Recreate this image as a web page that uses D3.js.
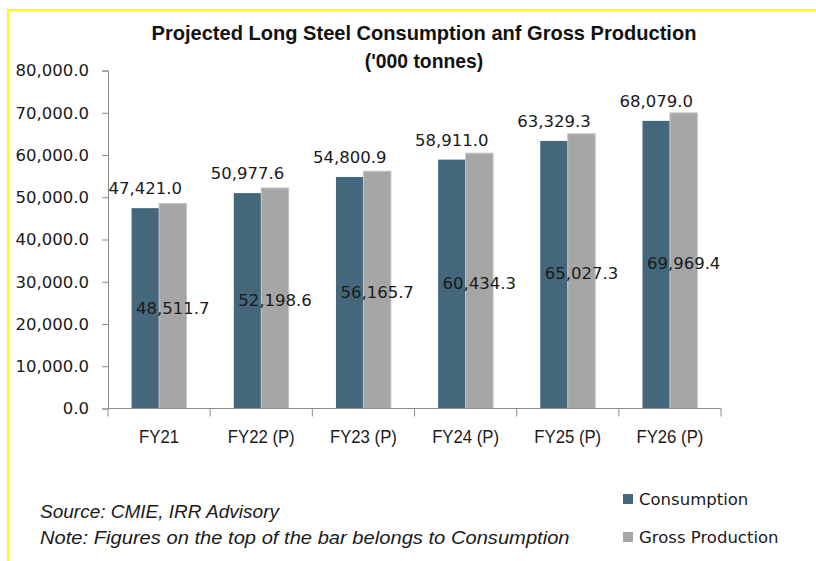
<!DOCTYPE html>
<html>
<head>
<meta charset="utf-8">
<script src="https://cdn.jsdelivr.net/npm/d3@7"></script>
<style>
  body { margin: 0; background: #fff; }
  svg { display: block; }
</style>
</head>
<body>
<script>
// data
var categories = ["FY21", "FY22 (P)", "FY23 (P)", "FY24 (P)", "FY25 (P)", "FY26 (P)"];
var consumption = [47421.0, 50977.6, 54800.9, 58911.0, 63329.3, 68079.0];
var production = [48511.7, 52198.6, 56165.7, 60434.3, 65027.3, 69969.4];
var seriesNames = ["Consumption", "Gross Production"];
var yTicks = [0, 10000, 20000, 30000, 40000, 50000, 60000, 70000, 80000];

var colors = { "Consumption": "#44677b", "Gross Production": "#a6a6a6" };

var numFont = "'DejaVu Sans', Verdana, sans-serif";
var narrowFont = "'Liberation Sans Narrow', 'Arial Narrow', 'Liberation Sans', sans-serif";

// squeeze text horizontally so the sans font looks like the condensed one in the picture
function condense(sel, k) {
    sel.each(function () {
        var len = this.getComputedTextLength();
        d3.select(this)
            .attr("textLength", len * k)
            .attr("lengthAdjust", "spacingAndGlyphs");
    });
}

var svg = d3.select("body")
    .append("svg")
    .attr("width", 816)
    .attr("height", 561);

// yellow frame
svg.append("rect")
    .attr("x", 8).attr("y", 10)
    .attr("width", 830).attr("height", 580)
    .attr("fill", "none")
    .attr("stroke", "#ffff00")
    .attr("stroke-width", 2);

// title
var t1 = svg.append("text")
    .attr("x", 424).attr("y", 40)
    .attr("text-anchor", "middle")
    .attr("font-family", narrowFont)
    .attr("font-weight", "bold")
    .attr("font-size", 21)
    .attr("fill", "#111")
    .text("Projected Long Steel Consumption anf Gross Production");
var t2 = svg.append("text")
    .attr("x", 424).attr("y", 68)
    .attr("text-anchor", "middle")
    .attr("font-family", narrowFont)
    .attr("font-weight", "bold")
    .attr("font-size", 21)
    .attr("fill", "#111")
    .text("('000 tonnes)");
condense(t1, 0.955);
condense(t2, 0.92);

// scales
var x0 = d3.scaleBand()
    .domain(categories)
    .range([108, 721])
    .padding(0);

var x1 = d3.scaleBand()
    .domain(seriesNames)
    .range([0, x0.bandwidth()])
    .paddingInner(0)
    .paddingOuter(0.86);

var y = d3.scaleLinear()
    .domain([0, 80000])
    .range([408.5, 70.5]);

// y axis
var yAxis = svg.append("g")
    .attr("transform", "translate(108,0)")
    .call(d3.axisLeft(y)
        .tickValues(yTicks)
        .tickSize(6)
        .tickPadding(13)
        .tickFormat(d3.format(",.1f")));
yAxis.select(".domain").attr("stroke", "#8c8c8c");
yAxis.selectAll(".tick line").attr("stroke", "#8c8c8c");
yAxis.selectAll("text")
    .attr("font-family", numFont)
    .attr("font-size", 16.5)
    .attr("fill", "#1a1a1a");

// bars
var rows = categories.map(function (c, i) {
    return { cat: c, values: [
        { name: "Consumption", value: consumption[i] },
        { name: "Gross Production", value: production[i] }
    ] };
});

var groups = svg.selectAll(".grp")
    .data(rows)
    .enter().append("g")
    .attr("class", "grp")
    .attr("transform", function (d) { return "translate(" + x0(d.cat) + ",0)"; });

groups.selectAll("rect")
    .data(function (d) { return d.values; })
    .enter().append("rect")
    .attr("x", function (d) { return x1(d.name); })
    .attr("y", function (d) { return y(d.value); })
    .attr("width", x1.bandwidth())
    .attr("height", function (d) { return y(0) - y(d.value); })
    .attr("fill", function (d) { return colors[d.name]; })
    .attr("stroke", function (d) { return d.name === "Gross Production" ? "#c4c4c4" : "none"; })
    .attr("stroke-width", 1);

// x axis (ticks between categories)
var xAxisLine = svg.append("g");
xAxisLine.append("line")
    .attr("x1", 108).attr("x2", 721)
    .attr("y1", y(0)).attr("y2", y(0))
    .attr("stroke", "#8c8c8c");
var bounds = categories.map(function (c) { return x0(c); }).concat([x0.range()[1]]);
xAxisLine.selectAll(".xt")
    .data(bounds)
    .enter().append("line")
    .attr("x1", function (d) { return d; })
    .attr("x2", function (d) { return d; })
    .attr("y1", y(0))
    .attr("y2", y(0) + 8)
    .attr("stroke", "#8c8c8c");

var xLabels = svg.selectAll(".xlab")
    .data(categories)
    .enter().append("text")
    .attr("x", function (d) { return x0(d) + x0.bandwidth() / 2; })
    .attr("y", 443)
    .attr("text-anchor", "middle")
    .attr("font-family", narrowFont)
    .attr("font-size", 19)
    .attr("fill", "#1a1a1a")
    .text(function (d) { return d; });
condense(xLabels, 0.88);

// value labels
var fmt = d3.format(",.1f");
groups.append("text")
    .attr("x", function (d) { return x1("Consumption") + x1.bandwidth() / 2; })
    .attr("y", function (d) { return y(d.values[0].value) - 14; })
    .attr("text-anchor", "middle")
    .attr("font-family", numFont)
    .attr("font-size", 16.5)
    .attr("fill", "#1a1a1a")
    .text(function (d) { return fmt(d.values[0].value); });

groups.append("text")
    .attr("x", function (d) { return x1("Gross Production") + x1.bandwidth() / 2; })
    .attr("y", function (d) { return (y(d.values[1].value) + y(0)) / 2 + 8; })
    .attr("text-anchor", "middle")
    .attr("font-family", numFont)
    .attr("font-size", 16.5)
    .attr("fill", "#1a1a1a")
    .text(function (d) { return fmt(d.values[1].value); });

// legend
var legend = svg.selectAll(".leg")
    .data(seriesNames)
    .enter().append("g")
    .attr("class", "leg")
    .attr("transform", function (d, i) { return "translate(623," + (494 + i * 38) + ")"; });
legend.append("rect")
    .attr("width", 10).attr("height", 10)
    .attr("fill", function (d) { return colors[d]; });
legend.append("text")
    .attr("x", 16).attr("y", 11)
    .attr("font-family", numFont)
    .attr("font-size", 16.5)
    .attr("fill", "#1a1a1a")
    .text(function (d) { return d; });

// notes
var n1 = svg.append("text")
    .attr("x", 40).attr("y", 518)
    .attr("font-family", narrowFont)
    .attr("font-style", "italic")
    .attr("font-size", 19)
    .attr("fill", "#1a1a1a")
    .text("Source: CMIE, IRR Advisory");
var n2 = svg.append("text")
    .attr("x", 40).attr("y", 544)
    .attr("font-family", narrowFont)
    .attr("font-style", "italic")
    .attr("font-size", 19)
    .attr("fill", "#1a1a1a")
    .text("Note: Figures  on the top of the bar belongs to Consumption");
condense(n1, 1.0);
condense(n2, 1.06);
</script>
</body>
</html>
